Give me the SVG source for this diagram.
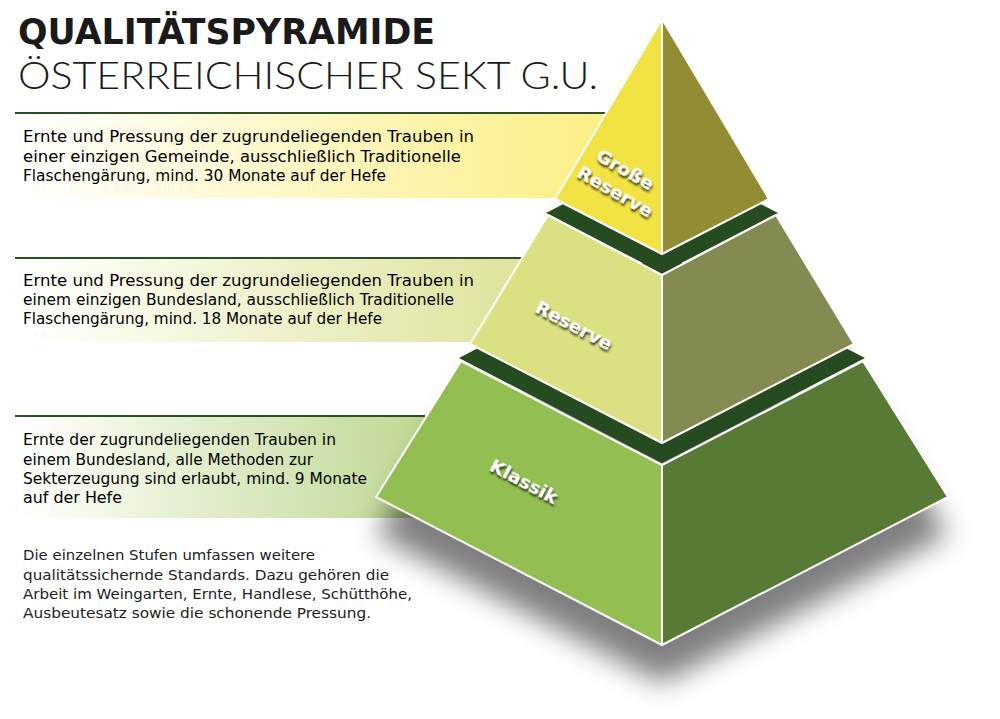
<svg xmlns="http://www.w3.org/2000/svg" width="1000" height="719" viewBox="0 0 1000 719">
<defs>
<style>
.t1{font-family:"DejaVu Sans","Liberation Sans",sans-serif;font-weight:bold;font-size:35px;fill:#1a1a1a}
.t2{font-family:"Lato","Open Sans","Liberation Sans",sans-serif;font-weight:300;font-size:37px;fill:#1a1a1a}
.body{font-family:"DejaVu Sans","Liberation Sans",sans-serif;font-size:15.3px;fill:#000}
.para{font-family:"DejaVu Sans","Liberation Sans",sans-serif;font-size:14px;fill:#222}
.lbl{font-family:"DejaVu Sans","Liberation Sans",sans-serif;font-weight:bold;font-size:18.5px;fill:#fff;filter:url(#ds)}
.face{stroke:#fff;stroke-width:2;stroke-linejoin:round}
.lead{stroke:#2b4e22;stroke-width:2}
</style>
<linearGradient id="g1" gradientUnits="userSpaceOnUse" x1="15" y1="0" x2="600" y2="0">
<stop offset="0" stop-color="#ffffff"/><stop offset="0.12" stop-color="#fffdf2"/><stop offset="1" stop-color="#fbef86"/>
</linearGradient>
<linearGradient id="g2" gradientUnits="userSpaceOnUse" x1="15" y1="0" x2="520" y2="0">
<stop offset="0" stop-color="#ffffff"/><stop offset="0.12" stop-color="#fcfdf4"/><stop offset="1" stop-color="#dfe39c"/>
</linearGradient>
<linearGradient id="g3" gradientUnits="userSpaceOnUse" x1="15" y1="0" x2="440" y2="0">
<stop offset="0" stop-color="#ffffff"/><stop offset="0.12" stop-color="#f8fbf1"/><stop offset="1" stop-color="#bcd68f"/>
</linearGradient>
<filter id="blur" x="-20%" y="-30%" width="140%" height="160%"><feGaussianBlur stdDeviation="14"/></filter>
<filter id="ds" x="-20%" y="-40%" width="140%" height="180%"><feDropShadow dx="1.5" dy="2" stdDeviation="1.2" flood-color="#1e1e08" flood-opacity="0.95"/></filter>
</defs>
<rect width="1000" height="719" fill="#fff"/>

<g id="title">
<text class="t1" x="18" y="44" textLength="417" lengthAdjust="spacingAndGlyphs">QUALITÄTSPYRAMIDE</text>
<text class="t2" x="18" y="89" textLength="580" lengthAdjust="spacingAndGlyphs">ÖSTERREICHISCHER SEKT G.U.</text>
</g>

<g id="band-grosse-reserve">
<rect x="15" y="113" width="620" height="85" fill="url(#g1)"/>
<line class="lead" x1="15" y1="113" x2="606" y2="113"/>
<text class="body" x="23" y="142" textLength="451" lengthAdjust="spacingAndGlyphs">Ernte und Pressung der zugrundeliegenden Trauben in</text>
<text class="body" x="23" y="162" textLength="438" lengthAdjust="spacingAndGlyphs">einer einzigen Gemeinde, ausschließlich Traditionelle</text>
<text class="body" x="23" y="181" textLength="363" lengthAdjust="spacingAndGlyphs">Flaschengärung, mind. 30 Monate auf der Hefe</text>
</g>

<g id="band-reserve">
<rect x="15" y="258" width="520" height="84" fill="url(#g2)"/>
<line class="lead" x1="15" y1="258" x2="522" y2="258"/>
<text class="body" x="23" y="286" textLength="451" lengthAdjust="spacingAndGlyphs">Ernte und Pressung der zugrundeliegenden Trauben in</text>
<text class="body" x="23" y="305" textLength="431" lengthAdjust="spacingAndGlyphs">einem einzigen Bundesland, ausschließlich Traditionelle</text>
<text class="body" x="23" y="324" textLength="359" lengthAdjust="spacingAndGlyphs">Flaschengärung, mind. 18 Monate auf der Hefe</text>
</g>

<g id="band-klassik">
<rect x="15" y="416" width="440" height="102" fill="url(#g3)"/>
<line class="lead" x1="15" y1="416" x2="425" y2="416"/>
<text class="body" x="23" y="445" textLength="313" lengthAdjust="spacingAndGlyphs">Ernte der zugrundeliegenden Trauben in</text>
<text class="body" x="23" y="465" textLength="290" lengthAdjust="spacingAndGlyphs">einem Bundesland, alle Methoden zur</text>
<text class="body" x="23" y="484" textLength="344" lengthAdjust="spacingAndGlyphs">Sekterzeugung sind erlaubt, mind. 9 Monate</text>
<text class="body" x="23" y="503" textLength="99" lengthAdjust="spacingAndGlyphs">auf der Hefe</text>
</g>

<g id="note">
<text class="para" x="23" y="560" textLength="292" lengthAdjust="spacingAndGlyphs">Die einzelnen Stufen umfassen weitere</text>
<text class="para" x="23" y="580" textLength="366" lengthAdjust="spacingAndGlyphs">qualitätssichernde Standards. Dazu gehören die</text>
<text class="para" x="23" y="599" textLength="389" lengthAdjust="spacingAndGlyphs">Arbeit im Weingarten, Ernte, Handlese, Schütthöhe,</text>
<text class="para" x="23" y="618" textLength="348" lengthAdjust="spacingAndGlyphs">Ausbeutesatz sowie die schonende Pressung.</text>
</g>

<g id="shadow">
<polygon points="461,399 863,399 948,535 662,683 376,535" fill="#000" opacity="0.5" filter="url(#blur)"/>
</g>

<g id="tier-klassik">
<polygon points="459,358 662,253 865,358 662,463" fill="#264b20"/>
<polygon class="face" points="461,361 662,465 662,645 376,497" fill="#93bf52"/>
<polygon class="face" points="863,361 948,497 662,645 662,465" fill="#597a35"/>
<text class="lbl" transform="translate(521,487) rotate(28)" text-anchor="middle">Klassik</text>
</g>

<g id="tier-reserve">
<polygon points="546,213 662,153 778,213 662,273" fill="#264b20"/>
<polygon class="face" points="548,215 662,275 662,443 470,344" fill="#dbe183"/>
<polygon class="face" points="776,215 854,344 662,443 662,275" fill="#858a52"/>
<text class="lbl" transform="translate(571,331) rotate(28)" text-anchor="middle">Reserve</text>
</g>

<g id="tier-grosse-reserve">
<polygon class="face" points="662,19 662,254 555,199" fill="#f0e343"/>
<polygon class="face" points="662,19 769,199 662,254" fill="#928c33"/>
<text class="lbl" transform="translate(622,175) rotate(30)" text-anchor="middle">Große</text>
<text class="lbl" transform="translate(612,197) rotate(30)" text-anchor="middle">Reserve</text>
</g>
</svg>
